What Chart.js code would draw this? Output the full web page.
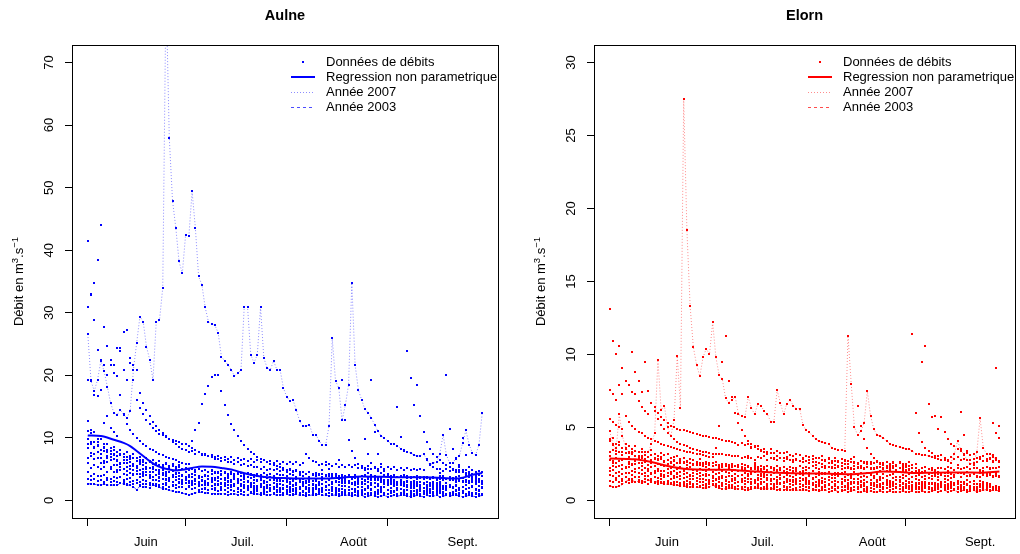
<!DOCTYPE html>
<html>
<head>
<meta charset="utf-8">
<script src="https://cdn.jsdelivr.net/npm/chart.js@4.4.1/dist/chart.umd.min.js"></script>
<style>
html, body { margin: 0; padding: 0; background: #fff; }
#wrap { position: relative; width: 1020px; height: 554px; overflow: hidden; }
.panel { position: absolute; top: 0; width: 510px; height: 554px; }
</style>
</head>
<body>
<div id="wrap">
  <div class="panel" style="left:0"><canvas id="aulne" width="510" height="554"></canvas></div>
  <div class="panel" style="left:510px"><canvas id="elorn" width="510" height="554"></canvas></div>
</div>
<script>
// x = day counted from 1 June (0..121), y = débit (m3/s)
const monthTickDays = [0, 30, 61, 92];
const monthLabels = ['Juin', 'Juil.', 'Août', 'Sept.'];
const monthLabelDays = [17.8, 47.5, 81.5, 115];
const aulneTicks = [0, 10, 20, 30, 40, 50, 60, 70];
const elornTicks = [0, 5, 10, 15, 20, 25, 30];
const legendLabels = ['Données de débits', 'Regression non parametrique', 'Année 2007', 'Année 2003'];

// ---- Aulne ----
const aulne2007 = [26.6,19.1,17.5,19.3,22.3,20.7,18.2,15.6,14.0,13.7,
 14.5,13.7,13.2,14.3,20.9,25.2,29.4,28.6,24.6,22.5,
 19.3,28.5,28.8,34.0,82.0,58.0,47.9,43.6,38.2,36.3,
 42.4,42.2,49.4,43.6,35.8,34.5,30.9,28.6,28.2,28.0,
 26.8,23.0,22.3,21.7,20.9,19.9,20.3,20.9,31.0,31.0,
 23.3,22.0,23.3,30.9,22.8,21.2,20.9,22.3,20.9,20.9,
 18.0,16.6,15.9,16.0,14.4,12.7,11.9,11.9,12.1,10.5,
 10.5,9.5,8.9,8.9,11.9,25.9,19.1,18.0,12.8,15.2,
 18.5,34.8,21.7,17.7,16.1,14.6,14.0,13.2,12.1,11.1,
 10.3,10.0,9.5,9.1,9.1,8.7,8.3,7.9,7.7,7.6,
 7.3,7.1,7.1,7.5,6.5,5.7,6.0,6.1,7.5,10.5,
 7.3,6.0,6.0,6.8,7.1,9.2,11.2,8.9,7.6,7.3,
 8.9,14.0];
const aulne2003 = [2.6,2.7,2.6,2.5,2.5,2.6,2.5,2.4,2.5,2.4,
 2.8,2.6,2.5,2.4,2.2,1.7,2.3,2.2,2.1,2.0,
 2.5,2.3,2.1,1.9,1.8,1.6,1.5,1.4,1.3,1.2,
 1.0,0.9,1.1,1.2,1.3,1.3,1.2,1.2,1.1,1.1,
 1.1,1.0,1.1,0.9,1.0,1.1,0.9,1.0,0.8,0.9,
 1.2,1.0,1.1,0.9,1.0,0.8,0.9,1.0,0.8,0.9,
 0.9,1.0,0.8,0.9,1.0,0.8,0.9,0.7,0.8,0.9,
 0.9,1.0,0.8,0.9,0.7,0.8,0.9,0.7,0.8,0.8,
 0.9,0.7,0.8,0.7,0.8,0.6,0.7,0.8,0.7,0.6,
 0.7,0.8,0.6,0.7,0.8,0.7,0.8,0.9,0.7,0.6,
 0.7,0.8,0.7,0.6,0.8,0.7,0.7,0.8,0.6,0.7,
 0.8,0.7,0.8,0.9,0.7,0.6,0.7,0.8,0.7,0.6,
 0.7,0.8];
const aulne1994 = [9.0,9.4,8.6,8.8,8.1,8.4,7.7,7.9,7.5,7.1,
 7.4,6.9,7.0,6.6,6.8,6.3,6.5,6.1,6.0,6.3,
 5.8,6.0,5.6,5.5,5.8,5.3,5.5,5.1,5.4,5.0,
 5.2,4.9,5.1,4.8,5.0,4.7,4.9,4.5,4.8,4.6,
 4.4,4.7,4.5,4.3,4.6,4.2,4.5,4.4,4.1,4.4,
 4.3,4.0,4.3,4.1,4.4,4.0,4.2,3.9,4.2,4.0,
 4.1,3.9,4.2,4.0,3.8,4.1,3.9,4.2,3.8,4.0,
 3.9,4.1,3.8,4.0,3.9,3.7,4.0,3.8,4.1,3.7,
 3.9,3.8,4.0,3.7,3.9,4.1,3.8,3.6,3.9,3.8,
 3.7,4.0,3.8,3.6,3.9,3.7,3.8,4.0,3.6,3.8,
 3.7,3.9,3.6,3.8,3.7,3.5,3.8,3.6,3.9,3.7,
 3.5,3.8,3.6,3.7,3.9,3.6,4.0,4.4,4.2,4.5,
 4.3,4.6];
const aulne1995 = [3.4,3.2,3.5,3.1,3.3,3.0,3.2,2.9,3.1,3.0,
 2.8,3.0,2.7,2.9,2.6,2.8,2.5,2.7,2.6,2.4,
 2.6,2.3,2.5,2.2,2.4,2.1,2.3,2.0,2.2,2.1,
 1.9,2.1,1.8,2.0,1.7,1.9,1.8,1.6,1.8,1.7,
 1.5,1.7,1.6,1.4,1.6,1.5,1.3,1.5,1.4,1.6,
 1.4,1.3,1.5,1.2,1.4,1.3,1.5,1.2,1.3,1.4,
 1.2,1.4,1.3,1.1,1.3,1.2,1.4,1.1,1.3,1.2,
 1.0,1.2,1.3,1.1,1.2,1.0,1.3,1.1,1.2,1.0,
 1.2,1.1,1.3,1.0,1.2,1.1,0.9,1.2,1.0,1.1,
 1.3,1.0,1.1,1.2,0.9,1.1,1.0,1.2,1.1,0.9,
 1.1,1.2,1.0,1.1,0.9,1.2,1.0,1.1,1.3,1.0,
 1.1,0.9,1.2,1.0,1.1,1.2,0.9,1.1,1.0,1.2,
 1.0,1.1];
const aulne1996 = [41.4,33.0,28.9,24.0,22.5,21.6,20.0,22.5,21.7,24.4,
 23.9,27.0,27.3,22.8,21.7,20.9,17.2,15.6,14.5,13.5,
 12.6,11.9,11.3,10.8,10.3,9.8,9.4,9.0,8.6,8.3,
 8.0,7.7,7.9,7.5,7.7,7.3,7.5,7.1,7.3,6.9,
 7.1,6.8,7.0,6.6,6.9,6.5,6.8,6.4,6.7,6.3,
 6.6,6.2,6.5,6.1,6.4,6.1,6.3,6.0,6.3,5.9,
 6.2,5.9,6.1,5.8,6.1,5.7,6.0,7.4,6.8,6.3,
 6.1,5.7,5.9,5.6,5.8,5.5,5.8,5.4,5.7,5.4,
 5.6,5.3,5.6,5.2,5.5,5.2,5.5,5.1,5.4,5.1,
 5.4,5.0,5.3,5.0,5.3,4.9,5.2,4.9,5.2,4.8,
 5.1,4.8,5.1,4.8,6.6,5.8,5.3,5.0,5.1,4.7,
 5.0,4.7,4.9,4.6,4.9,4.6,4.8,4.5,4.8,4.5,
 4.7,4.5];
const aulne1997 = [30.9,32.9,34.8,38.5,44.1,27.8,24.7,21.7,20.4,19.9,
 24.4,20.9,19.3,22.0,19.3,16.1,14.8,13.8,12.9,12.2,
 11.6,11.1,10.7,10.4,10.1,9.9,9.7,9.5,9.3,9.1,
 9.0,8.7,8.4,8.1,7.8,7.5,7.3,7.1,6.9,6.7,
 6.6,6.3,6.5,6.1,6.2,5.9,6.1,5.7,5.8,5.5,
 5.6,5.3,5.4,5.1,5.3,4.9,5.1,4.8,5.0,4.7,
 4.9,4.6,4.8,4.5,4.7,4.4,4.6,4.3,4.5,4.2,
 4.4,4.2,4.3,4.0,4.3,4.0,4.2,3.9,4.1,3.9,
 4.1,3.8,4.0,3.8,5.2,9.8,7.4,6.0,5.2,4.7,
 4.4,4.1,4.2,3.9,4.0,3.8,3.9,3.7,3.9,3.6,
 3.8,3.5,3.7,3.5,3.6,3.4,3.6,3.3,3.5,3.3,
 3.5,3.2,3.4,3.2,3.4,3.1,3.3,3.1,3.3,3.0,
 3.2,3.1];
const aulne1998 = [19.3,19.3,16.9,16.7,17.7,12.4,13.5,11.6,10.9,10.3,
 16.9,13.8,12.2,11.3,10.6,10.0,9.5,9.1,8.7,8.3,
 8.0,7.7,7.4,7.2,7.0,6.8,6.6,6.4,6.2,6.0,
 5.9,5.9,9.5,11.3,12.4,15.4,17.0,18.3,19.7,20.0,
 20.1,17.5,15.2,13.6,12.3,11.2,10.3,9.5,8.9,8.3,
 7.8,7.4,7.0,6.7,6.4,6.1,5.9,5.7,5.5,5.3,
 5.2,4.9,5.0,4.7,4.8,4.5,4.6,4.3,4.5,4.2,
 4.3,4.0,4.2,3.9,4.0,3.8,3.9,3.6,3.8,3.5,
 3.7,3.5,3.6,3.4,3.5,3.3,3.5,3.2,3.4,3.2,
 3.3,3.1,3.3,3.0,3.2,3.0,3.2,2.9,3.1,2.9,
 3.1,2.8,3.0,2.8,3.0,2.7,2.9,2.8,4.4,3.9,
 3.5,3.2,3.3,3.0,3.1,2.9,3.0,2.8,2.9,2.7,
 2.9,2.7];
const aulne1999 = [12.7,11.2,10.9,9.8,9.9,9.0,9.1,8.4,8.6,7.8,
 8.1,7.5,7.8,7.1,7.4,6.8,7.0,6.5,6.8,6.2,
 6.5,6.0,6.3,5.7,6.0,5.5,5.8,5.3,5.6,5.1,
 5.2,5.0,5.1,4.8,5.0,4.7,4.8,4.5,4.7,4.4,
 4.5,4.3,4.4,4.1,4.3,4.0,4.2,3.9,4.1,3.8,
 4.0,3.7,3.9,3.6,3.8,3.6,3.7,3.5,3.6,3.4,
 3.6,3.3,3.5,3.3,3.4,3.2,3.4,3.1,3.3,3.1,
 3.3,3.0,3.2,3.0,3.2,2.9,3.1,2.9,3.1,2.8,
 3.0,2.8,3.0,2.7,2.9,2.7,2.9,2.6,2.8,2.7,
 2.9,2.6,2.8,2.6,2.7,14.9,10.2,8.1,23.9,19.5,
 15.2,18.4,13.5,10.9,9.4,8.3,7.5,6.9,6.4,6.0,
 5.7,5.4,5.1,4.9,4.7,4.6,4.4,4.3,4.2,4.1,
 4.0,3.9];
const aulne2000 = [11.1,10.8,9.4,9.4,8.1,8.6,8.0,7.4,8.0,6.5,
 7.2,6.5,6.5,6.8,5.9,5.5,6.1,5.7,6.0,5.2,
 5.3,5.6,4.9,5.2,4.5,5.0,4.7,4.4,4.9,4.0,
 4.55,4.15,4.2,4.5,3.95,3.7,4.15,3.9,4.2,3.65,
 3.8,4.0,3.55,3.85,3.3,3.75,3.5,3.35,3.8,3.1,
 3.55,3.25,3.3,3.6,3.15,3.0,3.35,3.2,3.5,3.05,
 3.1,3.4,2.95,3.25,2.8,3.15,3.0,2.85,3.3,2.7,
 3.15,2.75,4.8,6.2,5.0,4.2,3.9,3.4,3.4,3.1,
 3.1,3.4,2.85,3.15,2.7,3.15,3.0,2.75,3.2,2.6,
 3.05,2.75,2.9,3.2,2.65,2.5,2.95,2.8,3.1,2.65,
 2.8,3.0,2.55,2.85,2.4,2.85,2.7,2.55,2.9,2.3,
 2.75,2.45,4.9,6.8,5.3,4.5,4.0,3.7,3.6,3.3,
 3.4,3.1];
const aulne2001 = [9.75,9.0,8.35,8.7,7.4,7.85,7.05,7.0,7.3,6.35,
 6.0,6.4,6.0,6.2,5.5,5.5,5.8,5.0,5.3,4.6,
 5.05,4.8,4.55,4.9,4.2,4.55,4.15,4.2,4.4,3.85,
 3.7,4.05,3.8,4.1,3.55,3.7,3.9,3.45,3.65,3.2,
 3.55,3.4,3.25,3.6,3.0,3.45,3.05,3.2,3.5,2.95,
 2.8,3.25,3.1,3.3,2.85,3.0,3.3,2.75,3.05,2.6,
 3.05,2.9,2.65,3.1,2.5,2.95,2.65,2.8,3.0,2.55,
 2.4,2.85,2.7,3.0,2.55,2.6,2.9,2.45,2.75,2.3,
 2.75,2.6,2.45,2.8,2.2,2.65,2.35,2.5,2.8,2.35,
 2.2,2.65,2.4,2.7,2.25,2.4,2.7,2.25,2.55,2.1,
 2.55,2.3,2.15,2.6,2.0,2.45,2.15,2.3,2.6,2.15,
 2.0,2.35,2.2,2.5,2.05,2.2,2.5,2.05,2.35,1.9,
 2.25,2.1];
const aulne2002 = [8.35,7.55,7.5,7.7,6.75,6.3,6.85,6.4,6.7,5.75,
 5.8,6.0,5.3,5.5,4.8,5.2,4.9,4.6,5.0,4.1,
 4.55,4.15,4.2,4.4,3.85,3.6,3.95,3.7,3.9,3.35,
 3.5,3.7,3.15,3.45,2.9,3.25,3.1,2.85,3.3,2.6,
 3.05,2.65,2.8,3.1,2.55,2.4,2.75,2.6,2.9,2.35,
 2.5,2.8,2.35,2.55,2.1,2.55,2.4,2.15,2.6,2.0,
 2.45,2.15,2.2,2.5,2.05,1.9,2.35,2.2,2.4,1.95,
 2.1,2.4,1.95,2.25,1.7,2.15,2.0,1.85,2.3,1.7,
 2.15,1.85,1.9,2.2,1.75,1.6,2.05,1.9,2.2,1.75,
 1.9,2.1,1.65,1.95,1.5,1.95,1.8,1.65,2.1,1.5,
 1.95,1.65,1.7,2.0,1.55,1.4,1.85,1.7,2.0,3.6,
 20.1,11.5,8.2,6.6,5.6,4.9,4.4,4.0,3.7,3.5,
 3.3,3.1];
const aulne2004 = [6.8,7.1,6.7,6.8,6.0,6.0,6.2,5.4,5.6,4.9,
 5.3,5.0,4.7,5.1,4.2,4.7,4.2,4.3,4.6,3.9,
 3.7,4.05,3.8,4.0,3.45,3.5,3.8,3.25,3.45,3.0,
 3.35,3.1,2.95,3.3,2.7,3.05,2.75,2.8,3.1,2.55,
 2.4,2.85,2.6,2.9,2.35,2.5,2.8,2.25,2.55,2.1,
 2.45,2.3,2.15,2.6,1.9,2.35,2.05,2.2,2.4,1.95,
 1.8,2.25,2.1,2.3,1.85,2.0,2.3,1.85,2.05,1.6,
 2.05,1.9,1.75,2.2,1.6,1.95,1.65,6.5,19.2,12.8,
 9.7,7.9,6.8,5.9,5.3,4.8,4.4,4.1,3.8,3.6,
 3.55,3.3,2.95,3.3,2.6,2.95,2.55,2.7,2.9,2.35,
 2.2,2.55,2.4,2.6,2.15,2.3,2.5,2.05,2.35,1.8,
 2.25,2.1,1.95,2.3,1.7,2.15,1.85,2.0,2.2,1.75,
 1.6,2.05];
const aulne2005 = [6.0,5.2,5.7,5.3,5.0,5.4,4.5,5.0,4.5,4.6,
 4.8,4.25,4.0,4.35,4.1,4.3,3.75,3.9,4.1,3.55,
 3.75,3.3,3.65,3.4,3.25,3.6,2.9,3.35,2.95,3.1,
 3.3,2.85,2.6,3.05,2.8,3.1,2.55,2.7,2.9,2.45,
 2.65,2.2,2.65,2.4,2.25,2.6,2.0,2.45,2.05,2.2,
 2.5,1.95,1.8,2.25,2.0,2.3,1.85,2.0,2.2,1.75,
 2.05,1.6,1.95,1.8,1.65,2.1,1.5,1.85,1.55,1.7,
 2.0,1.55,1.4,1.75,1.6,1.9,1.45,1.6,1.9,1.45,
 1.65,1.2,1.65,1.5,1.35,1.8,1.2,1.65,1.35,1.4,
 1.7,1.25,1.1,1.55,1.4,1.7,1.25,1.4,1.7,1.25,
 1.55,1.0,1.45,1.3,1.15,1.6,1.0,1.45,1.15,1.3,
 1.6,1.15,1.0,1.45,4.6,10.0,7.2,5.3,4.3,3.7,
 3.3,3.0];
const aulne2006 = [4.6,3.9,4.25,3.85,3.9,4.1,3.65,3.4,3.75,3.6,
 3.8,3.25,3.4,3.6,3.15,3.35,2.9,3.25,3.1,2.85,
 3.3,2.6,3.05,2.65,2.8,3.1,2.55,2.4,2.75,2.6,
 2.8,2.35,2.5,2.7,2.25,2.55,2.0,2.45,2.3,2.05,
 2.5,1.9,2.25,1.95,2.1,2.3,1.85,1.7,2.15,1.9,
 2.2,1.75,1.9,2.1,1.65,1.95,1.5,1.85,1.7,1.55,
 2.0,1.4,1.75,1.45,1.6,1.9,1.45,1.2,1.65,1.5,
 1.8,1.35,1.5,1.7,1.25,1.55,1.1,1.55,1.4,1.25,
 1.6,1.0,1.45,1.15,1.3,1.6,5.1,19.2,11.0,7.5,
 5.8,4.7,4.0,3.4,3.0,2.7,2.5,2.3,2.1,2.0,
 2.2,1.5,1.85,1.55,1.6,1.9,1.35,1.2,1.65,1.4,
 1.7,1.25,1.4,1.6,1.15,1.45,1.0,1.35,1.2,1.05,
 1.5,1.1];
const aulneRegDays = [0,4,8,11,13,15,17,19,21,23,25,27,29,32,35,38,41,44,47,50,53,57,60,66,72,78,84,90,97,103,109,112,115,118,121];
const aulneReg = [10.4,10.3,9.7,9.2,8.7,7.9,7.1,6.3,5.6,5.2,4.95,4.8,4.9,5.2,5.45,5.4,5.2,4.95,4.5,4.1,3.85,3.65,3.6,3.5,3.5,3.65,3.85,3.8,3.7,3.7,3.6,3.5,3.65,4.1,4.4];

// ---- Elorn ----
const elorn2007 = [4.75,3.9,3.4,5.9,4.4,3.6,3.3,3.2,3.4,3.3,
 3.3,3.3,3.3,3.9,4.6,9.65,6.2,6.5,5.0,4.4,
 5.5,9.9,6.35,27.5,18.5,13.3,10.5,9.3,8.5,9.8,
 10.4,10.0,12.2,9.8,8.6,8.3,7.0,6.7,6.9,7.1,
 5.9,5.8,5.7,7.1,6.35,5.9,6.6,6.5,6.1,5.9,
 5.4,5.4,7.55,6.7,5.9,6.6,6.9,6.5,6.3,6.3,
 5.2,4.8,4.7,4.4,4.2,4.06,4.0,3.95,3.9,3.6,
 3.5,3.45,3.45,3.4,11.3,8.0,5.0,4.5,4.75,5.3,
 7.5,5.8,4.9,4.5,4.4,4.3,4.06,3.9,3.77,3.7,
 3.65,3.6,3.54,3.5,3.4,3.2,3.15,3.1,3.1,3.05,
 3.0,2.9,2.85,2.8,2.75,2.7,2.6,3.2,4.06,3.5,
 3.1,2.8,2.5,2.6,3.3,5.65,3.6,3.2,3.15,3.0,
 2.8,2.7];
const elorn2003 = [1.0,0.95,0.9,1.0,1.1,1.3,1.4,1.35,1.3,1.3,
 1.25,1.3,1.4,1.35,1.3,1.25,1.2,1.15,1.1,1.1,
 1.05,1.05,1.0,1.0,0.95,0.95,0.9,0.9,0.9,0.85,
 0.85,0.9,1.05,0.95,0.85,0.8,0.8,0.85,0.85,0.8,
 0.8,0.8,0.75,0.7,0.8,0.85,0.85,0.8,0.8,0.8,
 0.8,0.8,0.75,0.75,0.75,0.75,0.75,0.7,0.7,0.7,
 0.7,0.75,0.65,0.7,0.75,0.65,0.7,0.75,0.6,0.65,
 0.7,0.6,0.65,0.7,0.6,0.65,0.7,0.6,0.55,0.65,
 0.6,0.65,0.55,0.6,0.65,0.6,0.55,0.65,0.6,0.55,
 0.6,0.65,0.55,0.6,0.65,0.55,0.6,0.65,0.6,0.55,
 0.65,0.7,0.6,0.65,0.7,0.6,0.65,0.7,0.6,0.65,
 0.7,0.6,0.65,0.7,0.6,0.65,0.7,0.75,0.65,0.7,
 0.7,0.65];
const elorn1994 = [3.3,3.45,3.2,3.35,3.1,3.25,3.0,3.15,3.05,2.9,
 3.05,2.85,2.95,2.8,2.9,2.75,2.85,2.7,2.8,2.65,
 2.75,2.6,2.7,2.55,2.65,2.6,2.5,2.6,2.45,2.55,
 2.5,2.4,2.55,2.45,2.35,2.5,2.4,2.3,2.45,2.35,
 2.4,2.3,2.45,2.35,2.25,2.4,2.3,2.35,2.2,2.35,
 2.3,2.2,2.35,2.25,2.3,2.15,2.3,2.25,2.2,2.35,
 2.25,2.3,2.2,2.35,2.25,2.15,2.3,2.2,2.3,2.25,
 2.2,2.3,2.15,2.25,2.3,2.2,2.15,2.3,2.25,2.2,
 2.3,2.15,2.25,2.2,2.3,2.15,2.25,2.3,2.2,2.1,
 2.25,2.2,2.3,2.15,2.2,2.25,2.1,2.2,2.3,2.15,
 2.2,2.1,2.25,2.2,2.15,2.3,2.2,2.1,2.25,2.15,
 2.2,2.3,2.15,2.2,2.25,2.1,2.2,2.3,2.15,2.25,
 2.2,2.3];
const elorn1995 = [1.35,1.3,1.4,1.25,1.35,1.3,1.2,1.3,1.25,1.35,
 1.2,1.3,1.15,1.25,1.2,1.1,1.25,1.15,1.2,1.1,
 1.15,1.05,1.15,1.1,1.0,1.1,1.05,1.15,1.0,1.05,
 1.1,0.95,1.05,1.0,0.9,1.0,0.95,1.05,0.9,0.95,
 1.0,0.9,0.95,0.85,0.95,0.9,1.0,0.85,0.9,0.95,
 0.85,0.9,0.95,0.8,0.9,0.85,0.95,0.8,0.85,0.9,
 0.8,0.9,0.85,0.8,0.9,0.75,0.85,0.9,0.8,0.85,
 0.8,0.85,0.75,0.9,0.8,0.85,0.75,0.8,0.9,0.8,
 0.75,0.85,0.8,0.9,0.75,0.8,0.85,0.75,0.8,0.9,
 0.8,0.75,0.85,0.8,0.75,0.9,0.8,0.75,0.85,0.8,
 0.75,0.85,0.8,0.9,0.75,0.8,0.85,0.75,0.8,0.85,
 0.8,0.75,0.85,0.8,0.9,0.75,0.8,0.85,0.75,0.8,
 0.85,0.8];
const elorn1996 = [13.1,10.9,10.0,10.6,9.1,8.2,7.9,10.2,8.8,8.2,
 7.4,9.5,7.5,6.7,6.1,5.6,5.2,4.9,4.6,4.4,
 4.2,4.0,3.9,3.8,3.7,3.6,3.5,3.45,3.4,3.35,
 3.3,3.25,3.2,3.2,3.15,3.15,3.1,3.1,3.05,3.05,
 3.06,2.94,2.95,3.07,2.89,2.78,2.96,2.9,3.02,2.79,
 2.91,2.85,2.79,2.92,2.68,2.86,2.74,2.8,2.87,2.69,
 2.81,2.69,2.75,2.82,2.64,2.58,2.76,2.7,2.82,2.59,
 2.71,2.65,2.59,2.77,2.48,2.66,2.54,2.6,2.72,2.54,
 2.66,2.49,2.55,2.67,2.49,2.43,2.61,2.5,2.62,2.44,
 2.56,2.5,2.44,2.62,11.4,6.0,4.6,4.0,3.6,3.4,
 3.26,3.04,3.05,3.12,2.89,2.78,2.96,2.85,2.97,2.74,
 2.86,2.8,2.74,2.87,2.63,2.81,2.69,2.7,2.82,2.64,
 2.76,2.7];
const elorn1997 = [7.55,7.26,6.9,7.9,7.3,8.2,7.9,7.4,7.26,6.8,
 6.4,6.1,5.9,6.7,6.4,6.0,5.7,5.5,5.3,5.1,
 5.0,4.9,4.85,4.8,4.75,4.7,4.6,4.55,4.5,4.45,
 4.4,4.35,4.3,4.25,4.2,4.15,4.1,4.05,4.0,3.95,
 3.78,3.91,3.8,3.87,3.64,3.65,3.72,3.49,3.56,3.33,
 3.52,3.23,3.36,3.24,3.25,3.32,3.14,3.03,3.16,3.1,
 2.93,3.06,3.0,3.07,2.89,2.9,3.02,2.79,2.91,2.68,
 2.92,2.68,2.81,2.69,2.7,2.82,2.64,2.53,2.71,2.65,
 2.48,2.66,2.6,2.72,2.49,2.55,2.67,2.44,2.56,2.38,
 2.62,2.33,2.51,2.39,2.4,2.52,3.2,9.5,10.6,6.6,
 5.7,5.8,4.9,5.75,4.7,4.2,3.9,3.7,3.5,3.4,
 3.18,3.26,3.1,3.17,2.94,2.95,3.02,2.84,2.91,2.68,
 2.92,2.63];
const elorn1998 = [5.6,5.4,5.2,5.0,4.9,5.8,5.4,5.1,4.9,4.7,
 4.6,4.4,4.3,4.2,4.1,4.0,3.9,3.8,3.7,3.65,
 3.6,3.5,3.45,3.4,3.35,3.3,3.25,3.2,3.15,3.1,
 3.05,3.0,3.0,3.6,5.1,9.5,11.3,8.2,7.1,6.0,
 5.3,4.8,4.4,4.1,3.9,3.7,3.55,3.4,3.3,3.2,
 3.22,2.93,3.06,2.89,2.9,2.97,2.74,2.63,2.76,2.7,
 2.65,2.72,2.54,2.61,2.43,2.56,2.5,2.39,2.57,2.28,
 2.46,2.34,2.35,2.47,2.24,2.18,2.36,2.25,2.37,2.19,
 2.26,2.2,2.14,2.27,2.03,2.21,2.04,2.1,2.22,2.04,
 1.93,2.11,2.05,2.12,1.94,2.0,2.12,1.89,2.01,1.83,
 2.07,1.78,1.96,1.84,1.9,2.02,1.79,1.73,1.91,1.85,
 1.85,1.92,1.74,1.86,1.68,1.86,1.8,1.69,1.87,1.63,
 1.81,1.69];
const elorn1999 = [4.2,4.3,3.9,4.0,3.6,3.85,3.7,3.5,3.75,3.3,
 3.53,3.32,3.35,3.46,3.17,3.04,3.23,3.1,3.21,2.92,
 2.95,3.02,2.84,2.91,2.68,2.86,2.75,2.64,2.82,2.53,
 2.66,2.54,2.55,2.67,2.44,2.38,2.51,2.45,2.52,2.34,
 2.35,2.47,2.24,2.36,2.18,2.31,2.25,2.14,2.32,2.08,
 2.21,2.09,2.1,2.22,2.04,1.93,2.11,2.05,2.12,1.94,
 2.0,2.07,1.89,2.01,1.78,1.96,1.9,1.84,1.97,1.73,
 1.91,1.79,1.8,1.92,1.74,1.68,3.0,6.5,5.1,4.2,
 3.6,3.2,2.9,2.7,2.55,2.45,2.35,2.24,2.37,2.08,
 2.21,2.04,2.1,2.17,1.94,1.88,2.01,1.95,2.02,1.84,
 1.9,1.97,1.79,1.91,1.68,1.86,1.8,1.74,1.87,1.63,
 1.81,1.69,1.7,1.82,1.64,1.58,1.76,1.65,1.77,1.59,
 1.71,1.6];
const elorn2000 = [4.1,3.8,3.6,3.8,3.3,3.5,3.25,3.3,3.4,3.05,
 2.94,3.13,3.0,3.11,2.82,2.85,2.96,2.67,2.78,2.54,
 2.71,2.6,2.54,2.67,2.43,2.56,2.44,2.45,2.57,2.34,
 2.28,2.41,2.35,2.42,2.24,2.3,2.37,2.19,2.26,2.08,
 2.26,2.15,2.09,2.27,1.98,2.16,2.04,2.05,2.17,1.99,
 1.93,2.06,2.0,2.12,1.94,1.95,2.07,1.89,2.01,1.83,
 1.96,1.9,1.84,2.02,1.78,1.96,1.79,1.85,1.97,1.79,
 1.73,1.91,1.85,1.92,1.74,1.8,1.92,1.74,1.86,1.68,
 1.86,1.75,1.69,1.87,1.63,1.81,1.69,1.75,1.82,1.64,
 1.58,1.76,1.7,1.82,1.64,1.7,1.77,1.59,1.71,1.53,
 1.71,1.65,1.59,1.72,1.48,1.66,1.54,1.6,2.4,6.05,
 4.5,3.4,2.8,2.4,2.2,2.05,2.01,1.84,1.91,1.68,
 1.86,1.69];
const elorn2001 = [3.06,2.69,2.88,2.72,2.75,2.86,2.62,2.49,2.68,2.6,
 2.55,2.67,2.44,2.56,2.33,2.51,2.4,2.34,2.47,2.23,
 2.42,2.18,2.31,2.19,2.2,2.32,2.09,2.03,2.16,2.1,
 2.05,2.17,1.94,2.06,1.88,2.01,1.95,1.89,2.02,1.78,
 2.02,1.73,1.91,1.79,1.8,1.92,1.74,1.68,1.81,1.75,
 1.75,1.87,1.64,1.76,1.58,1.76,1.7,1.59,1.77,1.53,
 1.77,1.53,1.66,1.54,1.6,1.72,1.54,1.48,1.61,1.55,
 1.55,1.67,1.49,1.61,1.38,1.56,1.5,1.44,1.62,1.38,
 1.62,1.38,1.51,1.39,1.45,1.57,1.39,1.33,1.51,1.4,
 1.4,1.52,1.34,1.46,1.28,1.46,1.4,1.29,1.47,1.23,
 1.47,1.23,1.41,1.29,1.3,1.42,1.24,1.18,1.36,1.3,
 1.3,1.42,1.24,1.31,1.13,1.31,1.25,1.19,2.2,5.3,
 9.1,5.1];
const elorn2002 = [2.78,2.57,2.6,2.71,2.42,2.29,2.48,2.4,2.51,2.22,
 2.36,2.25,2.14,2.32,2.03,2.16,2.04,2.05,2.17,1.94,
 2.05,1.9,1.95,2.0,1.85,1.75,1.9,1.8,1.9,1.75,
 1.8,1.75,1.65,1.8,1.6,1.7,1.6,1.65,1.7,1.55,
 1.65,1.5,1.55,1.65,1.5,1.4,1.55,1.5,1.6,1.4,
 1.5,1.45,1.4,1.55,1.3,1.45,1.35,1.4,1.5,1.35,
 1.4,1.3,1.35,1.45,1.3,1.25,1.35,1.3,1.4,1.25,
 1.35,1.3,1.25,1.4,1.15,1.3,1.2,1.25,1.35,1.2,
 1.3,1.2,1.2,1.3,1.15,1.1,1.25,1.2,1.3,1.15,
 1.25,1.2,1.1,1.25,1.05,1.2,1.1,1.15,1.25,1.1,
 1.2,1.05,1.1,1.2,1.05,1.0,1.15,1.1,1.2,1.05,
 1.15,1.1,1.0,1.15,0.95,1.1,1.0,1.05,1.15,3.1,
 4.6,4.3];
const elorn2004 = [2.21,2.37,2.3,2.39,2.13,2.2,2.29,2.03,2.17,1.91,
 2.12,1.88,2.01,1.89,1.9,2.02,1.79,1.73,1.86,1.8,
 1.65,1.8,1.7,1.8,1.6,1.65,1.7,1.55,1.65,1.45,
 1.65,1.4,1.55,1.45,1.45,1.55,1.4,1.3,1.45,1.4,
 1.25,1.4,1.35,1.45,1.25,1.3,1.4,1.25,1.3,1.15,
 1.35,1.15,1.25,1.15,1.2,1.3,1.15,1.05,1.2,1.15,
 1.05,1.2,1.1,1.2,1.05,1.1,1.2,1.05,1.1,0.95,
 1.15,0.95,1.1,1.0,1.0,1.1,0.95,0.9,1.05,1.0,
 0.9,1.05,1.0,1.05,0.9,0.95,1.05,0.9,1.0,0.85,
 1.05,0.85,1.0,0.85,0.9,1.0,0.85,0.8,0.95,0.9,
 0.8,0.95,0.9,1.0,0.85,0.9,0.95,0.8,0.9,0.75,
 0.95,0.75,0.9,0.8,0.85,0.95,0.8,0.75,0.9,0.85,
 0.75,0.9];
const elorn2005 = [2.0,2.07,1.89,1.96,1.78,1.91,1.85,1.74,1.92,1.63,
 1.8,1.65,1.7,1.8,1.6,1.55,1.65,1.6,1.7,1.5,
 1.55,1.6,1.45,1.55,1.35,1.5,1.45,1.35,1.5,1.3,
 1.4,1.3,1.35,1.4,1.25,1.2,1.35,1.25,1.35,1.2,
 1.25,1.3,1.15,1.25,1.1,1.2,1.15,1.1,1.25,1.0,
 1.15,1.05,1.1,1.2,1.0,0.95,1.1,1.05,1.15,0.95,
 1.0,1.1,0.95,1.05,0.9,1.0,0.95,0.9,1.05,0.85,
 1.0,0.85,0.9,1.0,0.85,0.8,0.95,0.9,1.0,0.8,
 0.85,1.9,2.6,1.8,1.4,1.2,1.1,1.0,1.1,0.9,
 1.0,0.9,0.95,1.0,0.85,0.8,0.95,0.9,1.0,0.8,
 0.85,0.95,0.8,0.9,0.75,0.9,0.85,0.75,0.9,0.7,
 0.85,0.75,0.8,0.9,0.75,0.7,0.85,0.8,0.9,0.75,
 0.85,0.75];
const elorn2006 = [1.72,1.65,1.55,1.7,1.45,1.6,1.45,1.5,1.6,1.4,
 1.35,1.45,1.4,1.5,1.3,1.35,1.45,1.25,1.35,1.2,
 1.3,1.25,1.2,1.3,1.1,1.25,1.1,1.15,1.25,1.05,
 1.0,1.15,1.1,1.15,1.0,1.05,1.1,0.95,1.05,0.9,
 1.0,0.95,0.9,2.9,3.6,2.6,2.1,1.8,1.65,1.55,
 1.4,1.5,1.4,1.5,1.3,1.35,1.4,1.25,1.35,1.15,
 1.45,1.4,1.3,1.45,1.25,1.4,1.25,1.3,1.4,1.25,
 1.15,1.3,1.25,1.35,1.2,1.25,1.3,1.15,1.25,1.1,
 1.25,1.2,1.1,1.25,1.05,1.2,1.1,1.15,1.25,1.1,
 1.0,1.15,1.1,1.2,1.05,1.1,1.2,1.05,1.15,0.95,
 1.1,1.05,1.0,1.15,0.95,1.1,1.0,1.05,1.15,1.0,
 0.9,1.05,1.0,1.1,0.95,1.0,1.1,0.95,1.05,0.9,
 1.0,0.95];
const elornRegDays = [0,8,11,14,17,20,23,27,32,37,42,47,52,57,61,65,70,75,80,85,90,95,100,105,110,115,121];
const elornReg = [2.87,2.82,2.72,2.58,2.42,2.28,2.18,2.12,2.1,2.1,2.03,1.96,1.9,1.86,1.85,1.84,1.82,1.8,1.88,1.98,1.95,1.88,1.9,1.92,1.92,1.9,1.98];

const FONT = '"Liberation Sans", Arial, Helvetica, sans-serif';
const toXY = (vals, xs) => vals.map((v, i) => ({x: xs ? xs[i] : i, y: v}));

// 2x2 pixel square, like R's small points
function dotImage(color) {
  const c = document.createElement('canvas');
  c.width = 2; c.height = 2;
  const g = c.getContext('2d');
  g.fillStyle = color;
  g.fillRect(0, 0, 2, 2);
  return c;
}

function pointSet(vals, dot) {
  return { data: toXY(vals), showLine: false, pointStyle: dot, pointRadius: 1, borderWidth: 0 };
}

function drawYTitle(ctx, cx, cy) {
  const big = '13px ' + FONT, small = '9.5px ' + FONT;
  const parts = [['Débit en m', big, 0], ['3', small, -5], ['.s', big, 0], ['\u22121', small, -5]];
  ctx.save();
  ctx.translate(cx, cy);
  ctx.rotate(-Math.PI / 2);
  let w = 0;
  parts.forEach(p => { ctx.font = p[1]; w += ctx.measureText(p[0]).width; });
  let x0 = -w / 2;
  ctx.textAlign = 'left';
  ctx.textBaseline = 'alphabetic';
  parts.forEach(p => { ctx.font = p[1]; ctx.fillText(p[0], x0, 4.5 + p[2]); x0 += ctx.measureText(p[0]).width; });
  ctx.restore();
}

// keep the point squares crisp
const crisp = {
  id: 'crisp',
  beforeDatasetsDraw(chart) { chart.ctx.imageSmoothingEnabled = false; },
  afterDatasetsDraw(chart) { chart.ctx.imageSmoothingEnabled = true; }
};

// box, title, labels and legend drawn R-style
const decor = {
  id: 'decor',
  afterDraw(chart, args, o) {
    const {ctx, chartArea: a, scales: {x, y}} = chart;
    ctx.save();
    ctx.strokeStyle = '#000';
    ctx.lineWidth = 1;
    ctx.strokeRect(Math.round(a.left) + 0.5, Math.round(a.top) + 0.5, Math.round(a.right - a.left), Math.round(a.bottom - a.top));

    ctx.fillStyle = '#000';
    ctx.font = 'bold 14.5px ' + FONT;
    ctx.textAlign = 'center';
    ctx.textBaseline = 'alphabetic';
    ctx.fillText(o.title, (a.left + a.right) / 2, 19.5);

    ctx.font = '13px ' + FONT;
    ctx.textBaseline = 'middle';
    y.ticks.forEach(t => {
      ctx.save();
      ctx.translate(a.left - 23, y.getPixelForValue(t.value));
      ctx.rotate(-Math.PI / 2);
      ctx.fillText(String(t.value), 0, 0);
      ctx.restore();
    });
    monthLabels.forEach((m, i) => ctx.fillText(m, x.getPixelForValue(monthLabelDays[i]), 542));

    drawYTitle(ctx, a.left - 53.5, (a.top + a.bottom) / 2);

    // legend
    const sx = a.right - 207, tx = a.right - 172;
    const rows = [a.top + 17, a.top + 32, a.top + 47, a.top + 62];
    ctx.textAlign = 'left';
    legendLabels.forEach((l, i) => ctx.fillText(l, tx, rows[i]));
    ctx.fillStyle = o.color;
    ctx.fillRect(sx + 11, rows[0] - 1, 2, 2);
    const seg = (yy, col, w, dash) => {
      ctx.beginPath();
      ctx.strokeStyle = col; ctx.lineWidth = w; ctx.setLineDash(dash);
      ctx.moveTo(sx, yy); ctx.lineTo(sx + 24, yy); ctx.stroke();
    };
    seg(rows[1], o.color, 2, []);
    seg(rows[2] + 0.5, o.fade, 1, [1, 2]);
    seg(rows[3] + 0.5, o.dash, 1, [3, 3]);
    ctx.restore();
  }
};

function buildPanel(id, cfg) {
  const dot = dotImage(cfg.color);
  const datasets = [
    { data: toXY(cfg.reg, cfg.regDays), showLine: true, borderColor: cfg.color, borderWidth: 2,
      pointRadius: 0, cubicInterpolationMode: 'monotone' },
    { ...pointSet(cfg.y2007, dot), showLine: true, borderColor: cfg.fade, borderWidth: 1, borderDash: [1, 2] },
    { ...pointSet(cfg.y2003, dot), showLine: true, borderColor: cfg.dash, borderWidth: 1, borderDash: [3, 3] },
    ...cfg.years.map(v => pointSet(v, dot))
  ];
  const tickGrid = len => ({ drawOnChartArea: false, drawTicks: true, tickLength: len, color: '#000', lineWidth: 1 });
  new Chart(document.getElementById(id), {
    type: 'scatter',
    data: { datasets },
    options: {
      responsive: false, animation: false, events: [],
      layout: { padding: { left: 0, right: cfg.rightPad, top: 45, bottom: 0 } },
      plugins: {
        legend: { display: false }, tooltip: { enabled: false },
        decor: { title: cfg.title, color: cfg.color, fade: cfg.fade, dash: cfg.dash }
      },
      scales: {
        x: { type: 'linear', min: -4.84, max: 125.84,
             afterBuildTicks: s => { s.ticks = monthTickDays.map(v => ({value: v})); },
             afterFit: s => { s.height = 36; },
             grid: tickGrid(8), border: { display: false }, ticks: { display: false } },
        y: { type: 'linear', min: cfg.yMin, max: cfg.yMax,
             afterBuildTicks: s => { s.ticks = cfg.ticks.map(v => ({value: v})); },
             afterFit: s => { s.width = cfg.leftW; },
             grid: tickGrid(7), border: { display: false }, ticks: { display: false } }
      }
    },
    plugins: [crisp, decor]
  });
}

buildPanel('aulne', {
  title: 'Aulne', color: '#0000ff', fade: 'rgba(0,0,255,0.45)', dash: 'rgba(0,0,255,0.7)',
  y2007: aulne2007, y2003: aulne2003,
  years: [aulne1994, aulne1995, aulne1996, aulne1997, aulne1998, aulne1999, aulne2000,
          aulne2001, aulne2002, aulne2004, aulne2005, aulne2006],
  reg: aulneReg, regDays: aulneRegDays, ticks: aulneTicks,
  yMin: -2.8, yMax: 72.8, leftW: 72, rightPad: 12
});
buildPanel('elorn', {
  title: 'Elorn', color: '#ff0000', fade: 'rgba(255,0,0,0.45)', dash: 'rgba(255,0,0,0.7)',
  y2007: elorn2007, y2003: elorn2003,
  years: [elorn1994, elorn1995, elorn1996, elorn1997, elorn1998, elorn1999, elorn2000,
          elorn2001, elorn2002, elorn2004, elorn2005, elorn2006],
  reg: elornReg, regDays: elornRegDays, ticks: elornTicks,
  yMin: -1.2, yMax: 31.2, leftW: 84, rightPad: 0
});
</script>
</body>
</html>
